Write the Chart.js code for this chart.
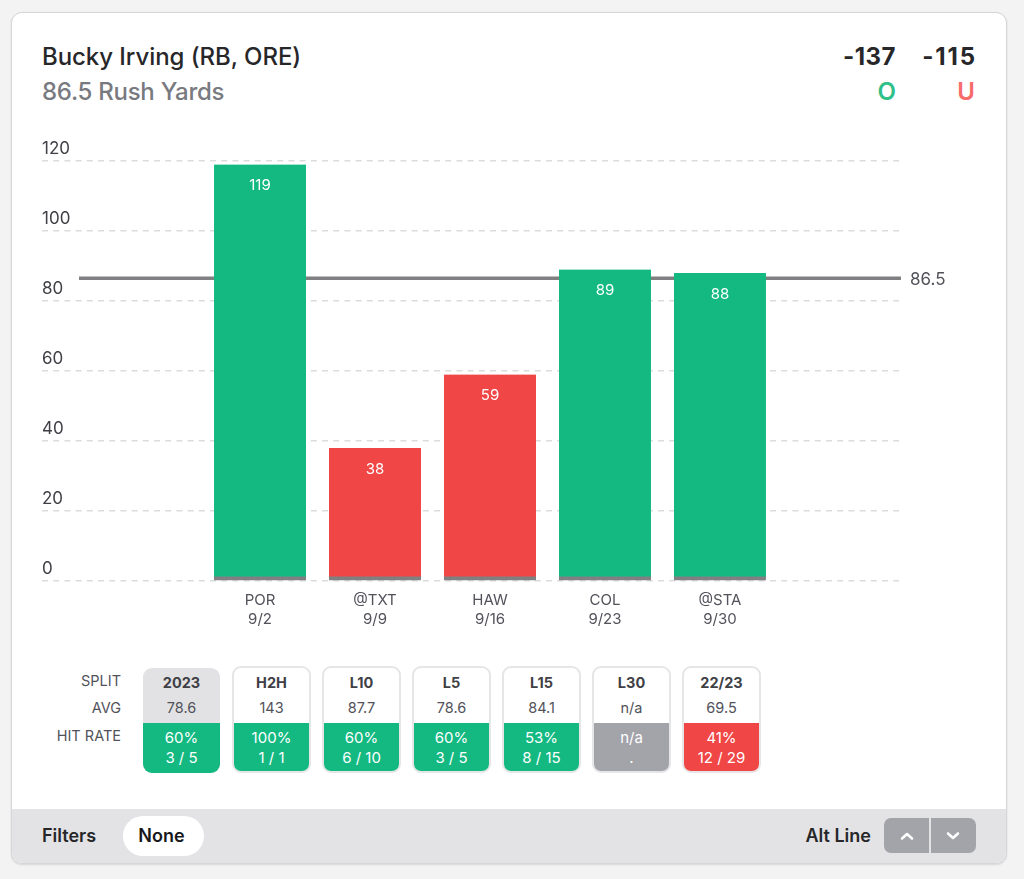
<!DOCTYPE html>
<html><head><meta charset="utf-8">
<script src="https://cdn.jsdelivr.net/npm/chart.js@4"></script>
<style>
html,body{margin:0;padding:0;width:1024px;height:879px;overflow:hidden;background:#f3f3f4;font-family:Inter,sans-serif}
#card{position:absolute;left:11px;top:12px;width:994px;height:850px;background:#fff;border:1.5px solid #d6d6d8;border-radius:11px;overflow:hidden;box-sizing:content-box;box-shadow:0 1px 2px rgba(0,0,0,.12)}
.t{position:absolute;white-space:nowrap;line-height:1}
#chart{position:absolute;left:0;top:130px}
#foot{position:absolute;left:12px;top:809px;width:994px;height:54px;background:#e3e3e5;border-radius:0 0 10px 10px}
.split{position:absolute;top:666px;height:107px;box-sizing:border-box;border:2px solid #e6e6e8;border-radius:9px;overflow:hidden;background:#fff;text-align:center;color:#3f3f46}
.split.sel{background:#e2e2e4;border:0;top:668px;height:105px}
.split .n{position:absolute;left:0;right:0;top:7px;font-size:14.5px;font-weight:700;line-height:16px}
.split .a{position:absolute;left:0;right:0;top:32px;font-size:14.5px;line-height:16px;color:#52525b}
.split .h{position:absolute;left:0;right:0;top:55px;bottom:0;color:#fff;font-size:15px;line-height:20px;padding-top:5px}
.rl{position:absolute;right:903px;font-size:14.5px;color:#52525b;line-height:16px}
.b{position:absolute;top:818px;height:35px;width:45px;background:#a3a3aa}
</style></head><body>
<div id="card"></div>
<div class="t" style="left:42px;top:45px;font-size:24px;font-weight:500;letter-spacing:-.06px;color:#27272a">Bucky Irving (RB, ORE)</div>
<div class="t" style="left:42px;top:80px;font-size:24px;font-weight:500;letter-spacing:-.28px;color:#797a80">86.5 Rush Yards</div>
<div class="t" style="right:128px;top:45px;font-size:24px;font-weight:700;letter-spacing:.5px;color:#27272a">-137</div>
<div class="t" style="right:49px;top:45px;font-size:24px;font-weight:700;letter-spacing:1.8px;margin-right:-1.8px;color:#27272a">-115</div>
<div class="t" style="right:128px;top:80px;font-size:24px;font-weight:600;color:#2fc088">O</div>
<div class="t" style="right:49px;top:80px;font-size:24px;font-weight:600;color:#f76b6b">U</div>
<canvas id="chart" width="1024" height="511"></canvas>
<div class="rl" style="top:673px">SPLIT</div>
<div class="rl" style="top:700px">AVG</div>
<div class="rl" style="top:728px">HIT RATE</div>
<div id="splits"></div>
<div id="foot"></div>
<div class="t" style="left:42px;top:827px;font-size:18px;font-weight:600;color:#27272a">Filters</div>
<div style="position:absolute;left:123px;top:816px;width:81px;height:40px;border-radius:20px;background:#fff"></div>
<div class="t" style="left:123px;width:77px;text-align:center;top:827px;font-size:18px;font-weight:600;color:#18181b">None</div>
<div class="t" style="right:153px;top:827px;font-size:18px;font-weight:600;color:#27272a">Alt Line</div>
<div class="b" style="left:884px;border-radius:7px 0 0 7px"></div>
<div class="b" style="left:931px;border-radius:0 7px 7px 0"></div>
<svg style="position:absolute;left:884px;top:818px" width="92" height="35" fill="none" stroke="#fff" stroke-width="2.6" stroke-linecap="round" stroke-linejoin="round"><path d="M18 20.5l5-4.5 5 4.5"/><path d="M64 15.5l5 4.5 5-4.5"/></svg>
<script>
const teams = ['POR','@TXT','HAW','COL','@STA'];
const dates = ['9/2','9/9','9/16','9/23','9/30'];
const yards = [119,38,59,89,88];
const propLine = 86.5;
const lineLabel = '86.5';
const splitNames = ['2023','H2H','L10','L5','L15','L30','22/23'];
const splitAvg = ['78.6','143','87.7','78.6','84.1','n/a','69.5'];
const splitPct = ['60%','100%','60%','60%','53%','n/a','41%'];
const splitHits = ['3 / 5','1 / 1','6 / 10','3 / 5','8 / 15','.','12 / 29'];
const splitColor = ['#13b981','#13b981','#13b981','#13b981','#13b981','#a3a3aa','#f04646'];
const splitLeft = [143,232,322,412,502,592,682];

const host = document.getElementById('splits');
splitNames.forEach((n,i)=>{
  const d=document.createElement('div');
  d.className='split'+(i===0?' sel':'');
  d.style.left=splitLeft[i]+'px';
  d.style.width=(i===0?77:79)+'px';
  d.innerHTML=`<div class="n">${n}</div><div class="a">${splitAvg[i]}</div><div class="h" style="background:${splitColor[i]}">${splitPct[i]}<br>${splitHits[i]}</div>`;
  host.appendChild(d);
});

const GREEN='#13b981', RED='#f04646', GRAY='#808082';
const xMin=-1.896, xMax=5.557;
const valuePlugin={id:'values',afterDatasetsDraw(c){
  const g=c.ctx; g.save();
  g.font='15px Inter'; g.fillStyle='#fff'; g.textAlign='center'; g.textBaseline='middle';
  c.getDatasetMeta(0).data.forEach((el,i)=>g.fillText(String(yards[i]),el.x,el.y+21));
  g.font='17px Inter'; g.fillStyle='#52525b'; g.textAlign='left';
  g.fillText(lineLabel,c.chartArea.right+11,c.scales.y.getPixelForValue(propLine)+2);
  g.restore();
}};
new Chart(document.getElementById('chart'),{
  data:{datasets:[
    {type:'bar',order:1,data:yards.map((v,i)=>({x:i,y:v})),
     backgroundColor:yards.map(v=>v>propLine?GREEN:RED),
     borderColor:GRAY,borderWidth:{top:0,left:0,right:0,bottom:4},borderSkipped:false,barThickness:92},
    {type:'line',order:2,data:[{x:-1.574,y:propLine},{x:5.574,y:propLine}],
     borderColor:GRAY,borderWidth:3.5,pointRadius:0,clip:false}
  ]},
  options:{
    responsive:false,animation:false,
    layout:{padding:{left:42,right:125,top:31,bottom:0}},
    plugins:{legend:{display:false},tooltip:{enabled:false}},
    scales:{
      x:{type:'linear',offset:false,min:xMin,max:xMax,
        grid:{display:false,offset:false},border:{display:false},
        afterBuildTicks(s){s.ticks=teams.map((_,i)=>({value:i}));},
        afterFit(s){s.height=60;},
        ticks:{autoSkip:false,maxRotation:0,padding:2,color:'#52525b',font:{family:'Inter',size:15,lineHeight:1.27},
          callback(v){return [teams[v],dates[v]];}}},
      y:{min:0,max:120,
        afterFit(s){s.width=0;},
        grid:{color:'#dcdcde',lineWidth:1.5,tickLength:0,drawTicks:false},
        border:{display:false,dash:[6,5.2]},
        ticks:{stepSize:20,mirror:true,padding:0,labelOffset:-12,color:'#3f3f46',font:{family:'Inter',size:17}}}
    }
  },
  plugins:[valuePlugin]
});
</script>
</body></html>
